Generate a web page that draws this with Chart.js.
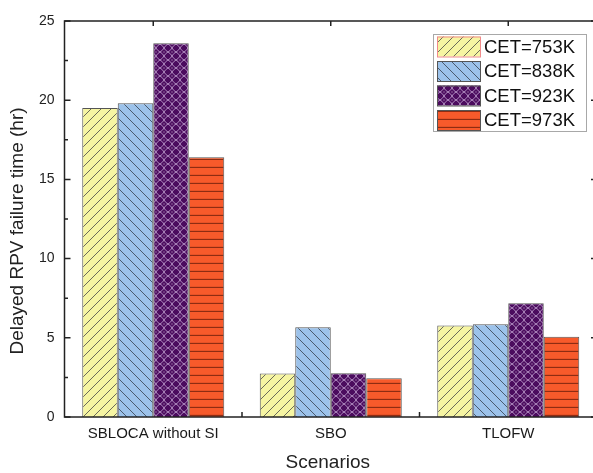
<!DOCTYPE html>
<html>
<head>
<meta charset="utf-8">
<script src="https://cdn.jsdelivr.net/npm/chart.js@4.4.0/dist/chart.umd.min.js"></script>
<style>
  html, body { margin: 0; padding: 0; background: #fff; overflow: hidden; }
  #wrap { width: 597px; height: 473px; position: relative; }
</style>
</head>
<body>
<div id="wrap"><canvas id="report-chart"></canvas></div>
<script>
const scenarios = ['SBLOCA without SI', 'SBO', 'TLOFW'];
const seriesLabels = ['CET=753K', 'CET=838K', 'CET=923K', 'CET=973K'];
const cet753 = [19.5, 2.75, 5.77];
const cet838 = [19.8, 5.66, 5.85];
const cet923 = [23.6, 2.76, 7.18];
const cet973 = [16.4, 2.44, 5.07];
const yTicks = [0, 5, 10, 15, 20, 25];

const FONT = '"Liberation Sans", Arial, sans-serif';

const tile = (size, bg, draw) => {
  const c = document.createElement('canvas');
  c.width = size;
  c.height = size;
  const g = c.getContext('2d');
  g.fillStyle = bg;
  g.fillRect(0, 0, size, size);
  draw(g, size);
  return g.createPattern(c, 'repeat');
};

const yellowFill = tile(10, '#f6f5a2', (g, s) => {
  g.strokeStyle = '#6a6a5a';
  g.lineWidth = 1;
  g.beginPath();
  g.moveTo(-1, s + 1); g.lineTo(s + 1, -1);
  g.moveTo(-1, 1); g.lineTo(1, -1);
  g.moveTo(s - 1, s + 1); g.lineTo(s + 1, s - 1);
  g.stroke();
});

const blueFill = tile(10, '#9cc2ea', (g, s) => {
  g.strokeStyle = '#4a5a6e';
  g.lineWidth = 1;
  g.beginPath();
  g.moveTo(-1, -1); g.lineTo(s + 1, s + 1);
  g.moveTo(s - 1, -1); g.lineTo(s + 1, 1);
  g.moveTo(-1, s - 1); g.lineTo(1, s + 1);
  g.stroke();
});

// diamond lattice with a light dot in each cell
const purpleFill = tile(8, '#4b0b5e', (g, s) => {
  g.strokeStyle = 'rgba(200,170,215,0.8)';
  g.lineWidth = 1;
  g.beginPath();
  g.moveTo(0, s / 2); g.quadraticCurveTo(s / 4 + 0.6, s / 4 + 0.6, s / 2, 0);
  g.moveTo(s / 2, 0); g.quadraticCurveTo(3 * s / 4 - 0.6, s / 4 + 0.6, s, s / 2);
  g.moveTo(s, s / 2); g.quadraticCurveTo(3 * s / 4 - 0.6, 3 * s / 4 - 0.6, s / 2, s);
  g.moveTo(s / 2, s); g.quadraticCurveTo(s / 4 + 0.6, 3 * s / 4 - 0.6, 0, s / 2);
  g.stroke();
  g.fillStyle = 'rgba(235,220,240,0.85)';
  g.fillRect(s / 2 - 0.5, s / 2 - 0.5, 1, 1);
});

const orangeFill = tile(8, '#f75a2b', (g, s) => {
  g.strokeStyle = '#8e2c12';
  g.lineWidth = 1.3;
  g.beginPath();
  g.moveTo(0, s - 0.5); g.lineTo(s, s - 0.5);
  g.stroke();
});

const fills = [yellowFill, blueFill, purpleFill, orangeFill];
const values = [cet753, cet838, cet923, cet973];

const dataSets = seriesLabels.map((label, i) => ({
  label: label,
  data: values[i],
  backgroundColor: fills[i],
  borderColor: '#555',
  borderWidth: 1,
  categoryPercentage: 0.8,
  barPercentage: 1,
}));

// frame, inward ticks, axis titles, legend box
const decorations = {
  id: 'decorations',
  afterDraw(chart) {
    const ctx = chart.ctx;
    const area = chart.chartArea;
    const x = chart.scales.x;
    const y = chart.scales.y;
    ctx.save();

    ctx.strokeStyle = '#222';
    ctx.lineWidth = 1.5;
    ctx.strokeRect(area.left, area.top, area.right - area.left, area.bottom - area.top);

    ctx.beginPath();
    for (let v = 0; v <= 25; v += 2.5) {
      const py = y.getPixelForValue(v);
      const len = v % 5 === 0 ? 6 : 3.5;
      ctx.moveTo(area.left, py); ctx.lineTo(area.left + len, py);
      ctx.moveTo(area.right, py); ctx.lineTo(area.right - len, py);
    }
    const step = x.getPixelForValue(1) - x.getPixelForValue(0);
    scenarios.forEach((s, i) => {
      const cx = x.getPixelForValue(i);
      ctx.moveTo(cx, area.top); ctx.lineTo(cx, area.top + 5);
      if (i > 0) {
        const bx = cx - step / 2;
        ctx.moveTo(bx, area.bottom); ctx.lineTo(bx, area.bottom - 5);
      }
    });
    ctx.stroke();

    ctx.fillStyle = '#222';
    ctx.font = '19px ' + FONT;
    ctx.textAlign = 'center';
    ctx.textBaseline = 'middle';
    ctx.fillText('Scenarios', (area.left + area.right) / 2 - 3, 463);

    ctx.save();
    ctx.translate(18, 231);
    ctx.rotate(-Math.PI / 2);
    ctx.fillText('Delayed RPV failure time (hr)', 0, 0);
    ctx.restore();

    // legend
    const lx = 433, ly = 34, lw = 153, lh = 97;
    ctx.fillStyle = '#fff';
    ctx.fillRect(lx, ly, lw, lh);
    ctx.strokeStyle = '#a8a8a8';
    ctx.lineWidth = 1;
    ctx.strokeRect(lx + 0.5, ly + 0.5, lw, lh);
    ctx.font = '18.5px ' + FONT;
    ctx.textAlign = 'left';
    chart.data.datasets.forEach((ds, i) => {
      const top = 36.5 + i * 24.5;
      ctx.fillStyle = ds.backgroundColor;
      ctx.fillRect(437, top, 43, 20);
      ctx.strokeStyle = i === 0 ? '#f08a8a' : '#555';
      ctx.strokeRect(437.5, top + 0.5, 43, 20);
      ctx.fillStyle = '#111';
      ctx.fillText(ds.label, 484, top + 11);
    });

    ctx.restore();
  },
};

const config = {
  type: 'bar',
  data: {
    labels: scenarios,
    datasets: dataSets,
  },
  options: {
    responsive: true,
    maintainAspectRatio: false,
    animation: false,
    layout: {
      padding: { top: 21, right: 0, bottom: 0, left: 0 },
    },
    scales: {
      x: {
        grid: { display: false, drawTicks: false },
        border: { display: false },
        ticks: {
          color: '#1a1a1a',
          padding: 8,
          font: { family: FONT, size: 15 },
        },
        afterFit: (scale) => { scale.height = 56; },
      },
      y: {
        min: 0,
        max: 25,
        grid: { display: false, drawTicks: false },
        border: { display: false },
        afterBuildTicks: (scale) => { scale.ticks = yTicks.map((v) => ({ value: v })); },
        ticks: {
          color: '#222',
          padding: 10,
          font: { family: FONT, size: 14 },
        },
        afterFit: (scale) => { scale.width = 64.5; },
      },
    },
    plugins: {
      legend: { display: false },
      tooltip: { enabled: false },
    },
  },
  plugins: [decorations],
};

new Chart(document.getElementById('report-chart'), config);
</script>
</body>
</html>
